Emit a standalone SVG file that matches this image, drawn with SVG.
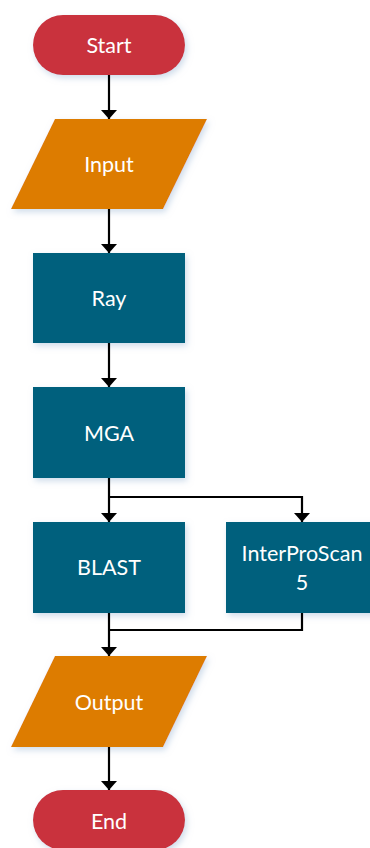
<svg xmlns="http://www.w3.org/2000/svg" width="370" height="848" viewBox="0 0 370 848">
<defs>
<filter id="sh" x="-20%" y="-20%" width="140%" height="150%">
<feDropShadow dx="2" dy="3" stdDeviation="3" flood-color="#9fb9d6" flood-opacity="0.5"/>
</filter>
<marker id="ah" markerUnits="userSpaceOnUse" viewBox="0 0 9 16" markerWidth="9" markerHeight="16" refX="9" refY="8" orient="auto">
<path d="M0,0 L9,8 L0,16 z" fill="#000"/>
</marker>
<style>
.term{fill:#C9333D;filter:url(#sh)}
.io{fill:#DD7C00;filter:url(#sh)}
.proc{fill:#00607D;filter:url(#sh)}
.lbl{font-family:Lato,"Open Sans","Liberation Sans",sans-serif;font-size:21.5px;fill:#fff;text-anchor:middle}
.c{fill:none;stroke:#000;stroke-width:2.2}
.a{marker-end:url(#ah)}
</style>
</defs>
<g id="start"><rect class="term" x="33" y="15" width="152" height="60" rx="30"/><text class="lbl" x="109" y="53">Start</text></g>
<g id="input"><polygon class="io" points="55,119 207,119 163,209 11,209"/><text class="lbl" x="109" y="172">Input</text></g>
<g id="ray"><rect class="proc" x="33" y="253" width="152" height="90"/><text class="lbl" x="109" y="306">Ray</text></g>
<g id="mga"><rect class="proc" x="33" y="387" width="152" height="91"/><text class="lbl" x="109" y="441">MGA</text></g>
<g id="blast"><rect class="proc" x="33" y="522" width="152" height="91"/><text class="lbl" x="109" y="575">BLAST</text></g>
<g id="ips"><rect class="proc" x="226" y="522" width="152" height="91"/><text class="lbl" x="302" y="561">InterProScan</text><text class="lbl" x="302" y="590">5</text></g>
<g id="output"><polygon class="io" points="55,656 207,656 163,747 11,747"/><text class="lbl" x="109" y="710">Output</text></g>
<g id="end"><rect class="term" x="33" y="790" width="152" height="60" rx="30"/><text class="lbl" x="109" y="829">End</text></g>
<g id="connectors">
<path class="c a" d="M109,75 V119"/>
<path class="c a" d="M109,209 V253"/>
<path class="c a" d="M109,343 V387"/>
<path class="c a" d="M109,478 V522"/>
<path class="c a" d="M109,497 H302 V522"/>
<path class="c a" d="M109,613 V656"/>
<path class="c" d="M302,613 V630 H109"/>
<path class="c a" d="M109,747 V790"/>
</g>
</svg>
